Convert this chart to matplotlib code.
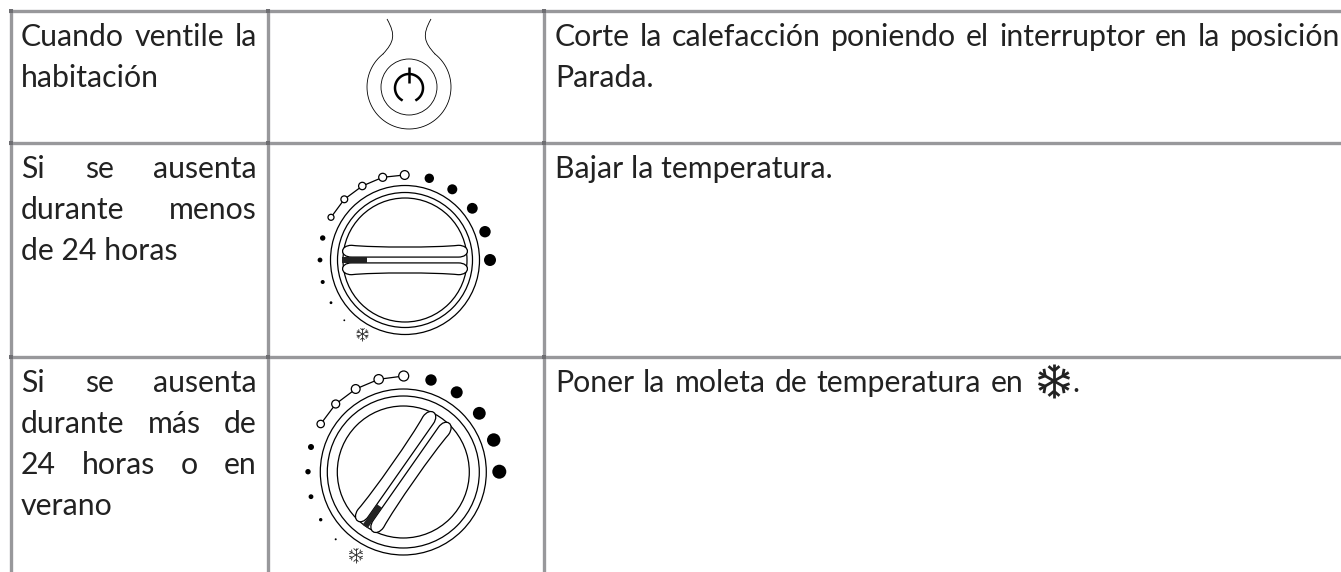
import numpy as np
import matplotlib
matplotlib.use("Agg")
import matplotlib.pyplot as plt
from matplotlib.patches import Circle, Rectangle, PathPatch
from matplotlib.path import Path
from matplotlib.transforms import Affine2D

W, H = 1341, 572
GRID = '#98989b'
JOINT = '#6e6e72'
INK = '#222222'
FONT = 'Lato'
SIZE = 21.8
LEADING = 41

# table geometry
col_lines = [11, 268, 544]
row_lines = [11, 143, 357]

left_cells = [
    ["Cuando ventile la", "habitación"],
    ["Si se ausenta", "durante menos", "de 24 horas"],
    ["Si se ausenta", "durante más de", "24 horas o en", "verano"],
]
left_justified = [[True, False], [True, True, False], [True, True, True, False]]
cell_baselines = [46, 178, 392]

right_cells = [
    ["Corte la calefacción poniendo el interruptor en la posición", "Parada."],
    ["Bajar la temperatura."],
    ["Poner la moleta de temperatura en"],
]
right_ends = [[1340, None], [None], [1023]]

# dial dots: (x, y, radius)
dial1_centre = (405, 260)
dial1_radii = [74.5, 67.5, 62]
dial1_filled = [(429.3, 178.3, 4.7), (452.3, 189.3, 5), (472.3, 208.3, 5.4), (485, 231.7, 5.7), (490, 260, 6)]
dial1_small = [(322.7, 238, 2.7), (320, 260, 2.4), (322.7, 282, 2), (331, 302.7, 1.4), (344.3, 320.3, 0.9)]
dial1_open = [(331, 217.3, 3), (344.3, 199.3, 3.4), (362.3, 186, 3.7), (382.7, 177.3, 4), (404.7, 175, 4.4)]
dial1_angle = 0

dial2_centre = (403.3, 472)
dial2_radii = [83, 76, 66]
dial2_filled = [(431, 380, 5.7), (456.7, 392.3, 6), (479.3, 413.3, 6.4), (493.7, 440, 6.7), (499.3, 471.7, 7)]
dial2_small = [(311, 447, 3), (308, 471.7, 2.7), (311, 496.7, 2.4), (320.7, 519.7, 1.7), (335.7, 539.3, 1)]
dial2_open = [(320.7, 424, 3.7), (335.7, 404, 4), (355.7, 389, 4.4), (378.7, 379.3, 4.7), (403.7, 376, 5)]
dial2_angle = 55

fig = plt.figure(figsize=(W / 100, H / 100), dpi=100)
ax = fig.add_axes([0, 0, 1, 1])
ax.set_xlim(0, W)
ax.set_ylim(H, 0)
ax.axis('off')


def put_line(text, x0, x1, y):
    if x1 is None:
        ax.text(x0, y, text, family=FONT, fontsize=SIZE, color=INK, va='baseline')
        return
    words = text.split(' ')
    r = fig.canvas.get_renderer()
    widths = []
    for w in words:
        t = ax.text(0, y, w, family=FONT, fontsize=SIZE, va='baseline')
        widths.append(t.get_window_extent(r).width)
        t.remove()
    gap = (x1 - x0 - sum(widths)) / (len(words) - 1)
    x = x0
    for w, wd in zip(words, widths):
        ax.text(x, y, w, family=FONT, fontsize=SIZE, color=INK, va='baseline')
        x += wd + gap


def snowflake(cx, cy, r, lw):
    for k in range(6):
        a = np.radians(30 + 60 * k)
        dx, dy = np.cos(a), np.sin(a)
        ax.plot([cx, cx + r * dx], [cy, cy + r * dy], color=INK, lw=lw, solid_capstyle='butt')
        for s in (-1, 1):
            b = a + s * np.radians(50)
            mx, my = cx + 0.6 * r * dx, cy + 0.6 * r * dy
            ax.plot([mx, mx + 0.42 * r * np.cos(b)], [my, my + 0.42 * r * np.sin(b)],
                    color=INK, lw=lw, solid_capstyle='butt')


def grip_path(cx, cy, half, thick, off, side):
    # one half of the knob grip: bulged ends, slightly bowed outer edge
    inner = cy + side * off
    outer = cy + side * (off + thick)
    waist = cy + side * (off + thick * 0.8)
    l, r = cx - half, cx + half
    b = thick * 0.95
    verts = [(l + b, inner),
             (l - 1, inner), (l - 1, outer), (l + b, outer),
             (cx - half * 0.5, waist), (cx + half * 0.5, waist), (r - b, outer),
             (r + 1, outer), (r + 1, inner), (r - b, inner),
             (l + b, inner)]
    codes = [Path.MOVETO, Path.CURVE4, Path.CURVE4, Path.CURVE4, Path.CURVE4, Path.CURVE4, Path.CURVE4,
             Path.CURVE4, Path.CURVE4, Path.CURVE4, Path.LINETO]
    return Path(verts, codes)


def draw_dial(centre, radii, filled, small, opened, angle, lw=0.9):
    cx, cy = centre
    rot = Affine2D().rotate_deg_around(cx, cy, -angle) + ax.transData
    for r in radii:
        ax.add_patch(Circle(centre, r, fc='none', ec='black', lw=lw))
    half = radii[2] + 2.5
    thick = radii[2] * 0.19
    off = radii[2] * 0.047
    for side in (-1, 1):
        ax.add_patch(PathPatch(grip_path(cx, cy, half, thick, off, side), fc='white', ec='black', lw=lw,
                               transform=rot, zorder=3))
    ax.add_patch(Rectangle((cx - half + 2, cy - off), 25, 2 * off, fc='#222222', ec='none',
                           transform=rot, zorder=5))
    for x, y, r in list(filled) + list(small):
        ax.add_patch(Circle((x, y), r, fc='black', ec='none'))
    ax.plot([p[0] for p in opened], [p[1] for p in opened], color='black', lw=lw)
    for x, y, r in opened:
        ax.add_patch(Circle((x, y), r, fc='white', ec='black', lw=lw, zorder=3))


def power_icon(cx, cy):
    ax.add_patch(Circle((cx, cy), 28, fc='none', ec='black', lw=0.6))
    a = np.radians(np.linspace(-58, 238, 80))
    ax.plot(cx + 14 * np.cos(a), cy - 14 * np.sin(a) + 1, color='black', lw=1.8)
    ax.plot([cx, cx], [cy - 20, cy - 4], color='black', lw=1.8, solid_capstyle='butt')
    # round body with a neck running up towards the top of the cell
    a = np.radians(np.linspace(38, 322, 150))
    ax.plot(cx + 42 * np.sin(a), cy - 42 * np.cos(a), color='black', lw=0.6)
    for s in (-1, 1):
        p = Path([(cx + s * 26, cy - 33), (cx + s * 15, cy - 45), (cx + s * 13, cy - 52), (cx + s * 22, cy - 68)],
                 [Path.MOVETO, Path.CURVE4, Path.CURVE4, Path.CURVE4])
        ax.add_patch(PathPatch(p, fc='none', ec='black', lw=0.6))


# grid
for x in col_lines:
    ax.plot([x, x], [row_lines[0] - 2, H], color=GRID, lw=2.4, solid_capstyle='butt', zorder=1)
for y in row_lines:
    ax.plot([col_lines[0] - 2, W], [y, y], color=GRID, lw=2.4, solid_capstyle='butt', zorder=1)
for x in col_lines:
    for y in row_lines:
        ax.add_patch(Rectangle((x - 1.7, y - 1.7), 3.4, 3.4, fc=JOINT, ec='none', zorder=2))

# text
for lines, just, y0 in zip(left_cells, left_justified, cell_baselines):
    for i, (line, j) in enumerate(zip(lines, just)):
        put_line(line, 21, 257 if j else None, y0 + i * LEADING)

for lines, ends, y0 in zip(right_cells, right_ends, cell_baselines):
    for i, (line, end) in enumerate(zip(lines, ends)):
        put_line(line, 555, end, y0 + i * LEADING)

# inline snowflake and the full stop after it
snowflake(1054, 381, 17, 2.0)
ax.text(1072, 392, '.', family=FONT, fontsize=SIZE, color=INK, va='baseline')

power_icon(409, 87)
draw_dial(dial1_centre, dial1_radii, dial1_filled, dial1_small, dial1_open, dial1_angle)
snowflake(362.5, 334, 6.5, 0.6)
draw_dial(dial2_centre, dial2_radii, dial2_filled, dial2_small, dial2_open, dial2_angle)
snowflake(356, 555, 7.5, 0.6)

fig.savefig('out.png', dpi=100)
